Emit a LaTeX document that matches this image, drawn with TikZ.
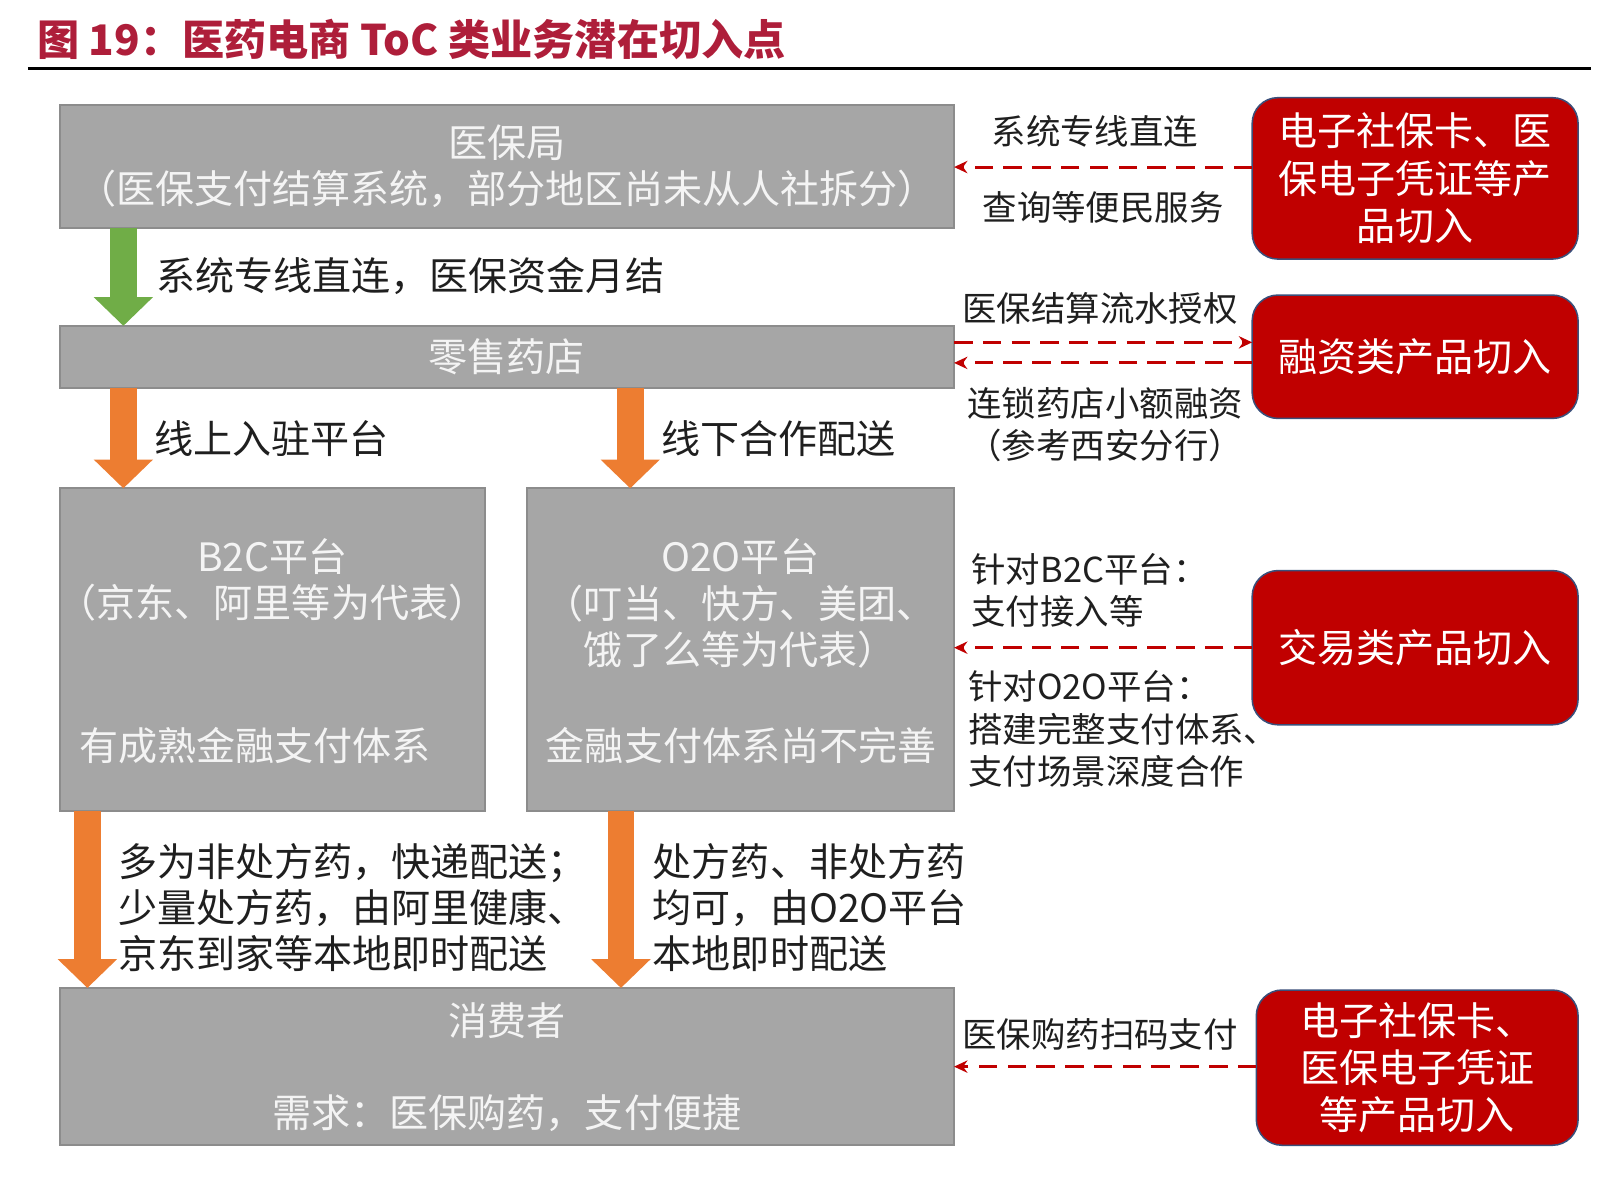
\documentclass[tikz,border=0pt]{standalone}
\usepackage{fontspec}
\setmainfont{Noto Sans CJK SC}
\usetikzlibrary{arrows.meta}
\definecolor{boxgray}{HTML}{A6A6A6}
\definecolor{edgegray}{HTML}{8C8C8C}
\definecolor{boxwhite}{HTML}{F4F4F4}
\definecolor{boxred}{HTML}{C00000}
\definecolor{edgeblue}{HTML}{3A4F7A}
\definecolor{titlered}{HTML}{AE1E3A}
\definecolor{arrowgreen}{HTML}{70AD47}
\definecolor{arroworange}{HTML}{ED7D31}

\begin{document}
\begin{tikzpicture}
        [x=1pt, y=-1pt,
        every node/.style={inner sep=0pt, outer sep=0pt},
        graybox/.style={anchor=north west, fill=boxgray, draw=edgegray, line width=2pt},
        redbox/.style={anchor=north west, fill=boxred, draw=edgeblue, line width=1.5pt,
          rounded corners=25pt, text=white, align=center, font=\fontsize{38}{46}\selectfont},
        boxtext/.style={text=boxwhite, align=center, font=\fontsize{38}{45}\selectfont},
        sidetext/.style={text=black!88, align=center, font=\fontsize{33.5}{41}\selectfont},
        flowtext/.style={anchor=west, align=left, text=black!88, font=\fontsize{38}{45}\selectfont},
        blockarrow/.style={line width=26pt, -{Triangle[width=56pt,length=28pt]}},
        dasharrow/.style={draw=boxred, line width=3pt, dash pattern=on 18pt off 10pt,
          -{Stealth[length=13pt,width=12pt]}}]

    \useasboundingbox (0,0) rectangle (1568,1146);

    \node[anchor=west, text=titlered, font=\bfseries\fontsize{41}{46}\selectfont] (title)
      at (36,38) {图 19：医药电商 ToC 类业务潜在切入点};
    \draw[line width=3pt] (27,67) -- (1548,67);

    \begin{scope}
      \node[graybox, minimum width=870pt, minimum height=120pt] (yibao) at (58,102) {};
      \node[graybox, minimum width=870pt, minimum height=60pt] (pharm) at (58,317) {};
      \node[graybox, minimum width=414pt, minimum height=314pt] (b2c) at (58,475) {};
      \node[graybox, minimum width=415pt, minimum height=314pt] (o2o) at (513,475) {};
      \node[graybox, minimum width=870pt, minimum height=153pt] (consumer) at (58,961) {};

      \node[boxtext] (yibaotxt) at (493,162) {医保局\\（医保支付结算系统，部分地区尚未从人社拆分）};
      \node[boxtext] (pharmtxt) at (493,347) {零售药店};
      \node[boxtext] (b2ctxt) at (265,564) {B2C平台\\（京东、阿里等为代表）};
      \node[boxtext, anchor=west] (b2cnote) at (77,725) {有成熟金融支付体系};
      \node[boxtext] (o2otxt) at (720,587) {O2O平台\\（叮当、快方、美团、\\饿了么等为代表）};
      \node[boxtext] (o2onote) at (721,725) {金融支付体系尚不完善};
      \node[boxtext] (consumertxt) at (493,993) {消费者};
      \node[boxtext] (consumernote) at (493,1083) {需求：医保购药，支付便捷};
    \end{scope}

    \draw[blockarrow, arrowgreen] ([xshift=62pt]yibao.south west) -- ([xshift=62pt]pharm.north west);
    \draw[blockarrow, arroworange] ([xshift=62pt]pharm.south west) -- ([xshift=62pt]b2c.north west);
    \draw[blockarrow, arroworange] ([xshift=555pt]pharm.south west) -- ([xshift=100pt]o2o.north west);
    \draw[blockarrow, arroworange] ([xshift=27pt]b2c.south west) -- ([xshift=27pt]consumer.north west);
    \draw[blockarrow, arroworange] ([xshift=91pt]o2o.south west) -- ([xshift=546pt]consumer.north west);

    \node[flowtext] (linktxt) at (152,268) {系统专线直连，医保资金月结};
    \node[flowtext] (onlinetxt) at (150,427) {线上入驻平台};
    \node[flowtext] (offlinetxt) at (643,427) {线下合作配送};
    \node[flowtext] (b2cship) at (115,883) {多为非处方药，快递配送；\\少量处方药，由阿里健康、\\京东到家等本地即时配送};
    \node[flowtext] (o2oship) at (635,883) {处方药、非处方药\\均可，由O2O平台\\本地即时配送};

    \begin{scope}
      \node[redbox, minimum width=317pt, minimum height=157pt] (card1) at (1218,95) {电子社保卡、医\\保电子凭证等产\\品切入};
      \node[redbox, minimum width=317pt, minimum height=120pt] (finance) at (1218,287) {融资类产品切入};
      \node[redbox, minimum width=317pt, minimum height=150pt] (trade) at (1218,555) {交易类产品切入};
      \node[redbox, minimum width=313pt, minimum height=151pt] (card2) at (1222,963) {电子社保卡、\\医保电子凭证\\等产品切入};
    \end{scope}

    \coordinate (d1) at ([yshift=11pt]card1.west);
    \coordinate (d2) at ([yshift=14pt]finance.west);
    \coordinate (d3) at ([yshift=-6pt]finance.west);
    \coordinate (d4) at ([yshift=1pt]card2.west);
    \draw[dasharrow] (d1) -- (d1 -| yibao.east);
    \draw[dasharrow] (d2 -| pharm.east) -- (d2);
    \draw[dasharrow] (d3) -- (d3 -| pharm.east);
    \draw[dasharrow] (trade.west) -- (trade.west -| o2o.east);
    \draw[dasharrow] (d4) -- (d4 -| consumer.east);

    \node[sidetext] (s1) at (1065,128) {系统专线直连};
    \node[sidetext] (s2) at (1073,202) {查询等便民服务};
    \node[sidetext] (s3) at (1070,300) {医保结算流水授权};
    \node[sidetext] (s4) at (1075,413) {连锁药店小额融资\\（参考西安分行）};
    \node[sidetext, anchor=west, align=left] (s5) at (945,574) {针对B2C平台：\\支付接入等};
    \node[sidetext, anchor=west, align=left] (s6) at (942,709) {针对O2O平台：\\搭建完整支付体系、\\支付场景深度合作};
    \node[sidetext] (s7) at (1070,1006) {医保购药扫码支付};
    \end{tikzpicture}
\end{document}
